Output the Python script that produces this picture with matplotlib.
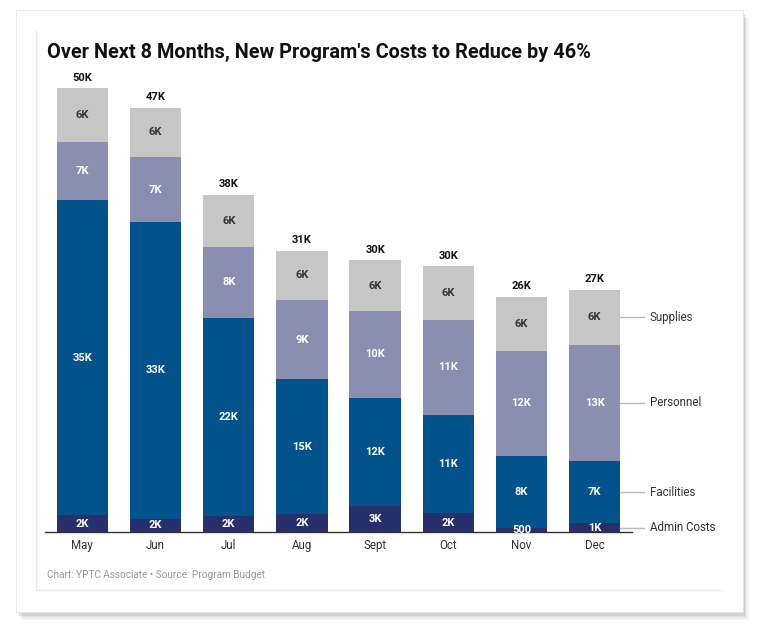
import matplotlib.pyplot as plt
from matplotlib.patches import Rectangle
import numpy as np

plt.rcParams['font.family'] = ['Roboto', 'DejaVu Sans']

months = ["May", "Jun", "Jul", "Aug", "Sept", "Oct", "Nov", "Dec"]
series = ["Admin Costs", "Facilities", "Personnel", "Supplies"]
admin = [1.9, 1.5, 1.8, 2.0, 2.9, 2.1, 0.5, 1.0]
facilities = [35.5, 33.4, 22.3, 15.2, 12.2, 11.1, 8.1, 7.0]
personnel = [6.5, 7.3, 8.0, 8.9, 9.8, 10.7, 11.8, 13.1]
supplies = [6.1, 5.6, 5.9, 5.6, 5.7, 6.0, 6.1, 6.2]

admin_lbl = ["2K", "2K", "2K", "2K", "3K", "2K", "500", "1K"]
facilities_lbl = ["35K", "33K", "22K", "15K", "12K", "11K", "8K", "7K"]
personnel_lbl = ["7K", "7K", "8K", "9K", "10K", "11K", "12K", "13K"]
supplies_lbl = ["6K", "6K", "6K", "6K", "6K", "6K", "6K", "6K"]
total_lbl = ["50K", "47K", "38K", "31K", "30K", "30K", "26K", "27K"]

colors = ["#272f6d", "#02538b", "#8a8eb0", "#c6c6c6"]
text_colors = ["white", "white", "white", "#333333"]

fig = plt.figure(figsize=(7.6, 6.32), dpi=100)
fig.patch.set_facecolor("white")

# card with soft shadow
for i, a in enumerate([0.03, 0.04, 0.05, 0.06]):
    off = (4 - i) * 1.5
    fig.patches.append(Rectangle((16 / 760 + off / 760, 20 / 632 - off / 632 - 2 / 632),
                                 727 / 760, 602 / 632, transform=fig.transFigure,
                                 facecolor="black", alpha=a, edgecolor="none", zorder=0))
fig.patches.append(Rectangle((16 / 760, 20 / 632), 727 / 760, 602 / 632,
                             transform=fig.transFigure, facecolor="white",
                             edgecolor="#e6e6e6", lw=0.6, zorder=1))
# inner frame lines
fig.lines.append(plt.Line2D([36 / 760, 36 / 760], [1 - 31 / 632, 1 - 590 / 632],
                            transform=fig.transFigure, color="#ebebeb", lw=1, zorder=2))
fig.lines.append(plt.Line2D([36 / 760, 722 / 760], [1 - 590 / 632, 1 - 590 / 632],
                            transform=fig.transFigure, color="#ebebeb", lw=1, zorder=2))

ax = fig.add_axes([45 / 760, 100 / 632, 587 / 760, 444 / 632])
ax.set_zorder(3)
ax.patch.set_alpha(0)

x = np.arange(len(months))
data = [admin, facilities, personnel, supplies]
labels = [admin_lbl, facilities_lbl, personnel_lbl, supplies_lbl]
bottom = np.zeros(len(months))
for vals, lbls, c, tc, name in zip(data, labels, colors, text_colors, series):
    vals = np.array(vals)
    ax.bar(x, vals, 0.7, bottom=bottom, color=c, edgecolor="none")
    for xi, b, v, t in zip(x, bottom, vals, lbls):
        ax.text(xi, b + v / 2, t, ha="center", va="center", color=tc,
                fontsize=8, fontweight="bold")
    # series label on the right
    ymid = bottom[-1] + vals[-1] / 2
    ax.plot([7.35, 7.68], [ymid, ymid], color="#bbbbbb", lw=1, clip_on=False)
    ax.text(7.75, ymid, name, ha="left", va="center", fontsize=8.3, color="#333333")
    bottom = bottom + vals

for xi, tot, t in zip(x, bottom, total_lbl):
    ax.text(xi, tot + 0.6, t, ha="center", va="bottom", fontsize=8,
            fontweight="bold", color="#111111")

ax.set_xlim(-0.51, 7.51)
ax.set_ylim(0, 50)
ax.set_xticks(x)
ax.set_xticklabels(months, fontsize=8.3, color="#333333")
ax.tick_params(axis="x", length=0, pad=5)
ax.set_yticks([])
for s in ["top", "right", "left"]:
    ax.spines[s].set_visible(False)
ax.spines["bottom"].set_color("#333333")
ax.spines["bottom"].set_linewidth(1)

fig.text(47 / 760, 1 - 52 / 632, "Over Next 8 Months, New Program's Costs to Reduce by 46%",
         fontsize=14.3, fontweight="bold", color="#111111", va="center", zorder=4)
fig.text(47 / 760, 1 - 575 / 632, "Chart: YPTC Associate \u2022 Source: Program Budget",
         fontsize=7.2, color="#999999", va="center", zorder=4)

fig.savefig("out.png", dpi=100)
